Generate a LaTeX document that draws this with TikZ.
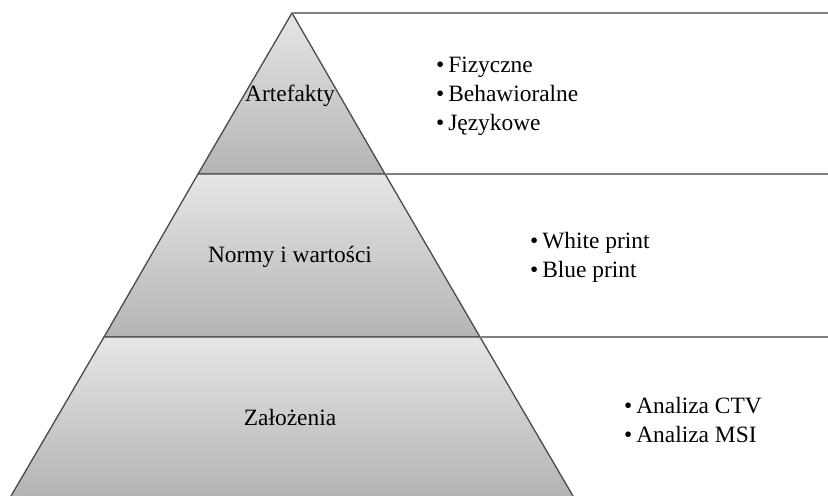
\documentclass[tikz,border=0pt]{standalone}
\usepackage{fontspec}
\setmainfont{Liberation Serif}
\usetikzlibrary{positioning}

\definecolor{layertop}{HTML}{E6E6E6}
\definecolor{layerbot}{HTML}{B4B4B4}
\definecolor{edgegray}{HTML}{4A4A4A}
\definecolor{rulegray}{HTML}{808080}

\tikzset{
  layer/.style={draw=edgegray, line width=1.3bp, line join=round, top color=layertop, bottom color=layerbot},
  sideline/.style={draw=rulegray, line width=1.8bp},
  label/.style={font=\fontsize{23.5}{28}\selectfont, inner sep=0pt},
  items/.style={font=\fontsize{23.5}{29}\selectfont, align=left, anchor=west, inner sep=0pt}
}

\begin{document}
\begin{tikzpicture}[x=1bp, y=-1bp]
    \useasboundingbox (0,0) rectangle (828,496);
    \coordinate (apex) at (292,13);
    \coordinate (L1) at (198,174);
    \coordinate (R1) at (385,174);
    \coordinate (L2) at (104,337);
    \coordinate (R2) at (480,337);
    \coordinate (L3) at (11,496);
    \coordinate (R3) at (573,496);
    \coordinate (E0) at (828,13);
    \coordinate (E1) at (828,174);
    \coordinate (E2) at (828,337);
    % layers
    \path[layer] (apex) -- (R1) -- (L1) -- cycle;
    \path[layer] (L1) -- (R1) -- (R2) -- (L2) -- cycle;
    \path[layer, draw=none] (L2) -- (R2) -- (R3) -- (L3) -- cycle;
    \draw[edgegray, line width=1.3bp] (L3) -- (L2) -- (R2) -- (R3);
    % lines to the right
    \draw[sideline] (apex) -- (E0);
    \draw[sideline] (R1) -- (E1);
    \draw[sideline] (R2) -- (E2);
    % texts
    \node[label] (art) at (290,96) {Artefakty};
    \node[label] (norm) at (290,257) {Normy i wartości};
    \node[label] (zal) at (290,417) {Założenia};
    \node[items] (artlist) at (436,96) {•\,Fizyczne\\•\,Behawioralne\\•\,Językowe};
    \node[items] (normlist) at (530,257) {•\,White print\\•\,Blue print};
    \node[items] (zallist) at (624,420) {•\,Analiza CTV\\•\,Analiza MSI};
\end{tikzpicture}
\end{document}
